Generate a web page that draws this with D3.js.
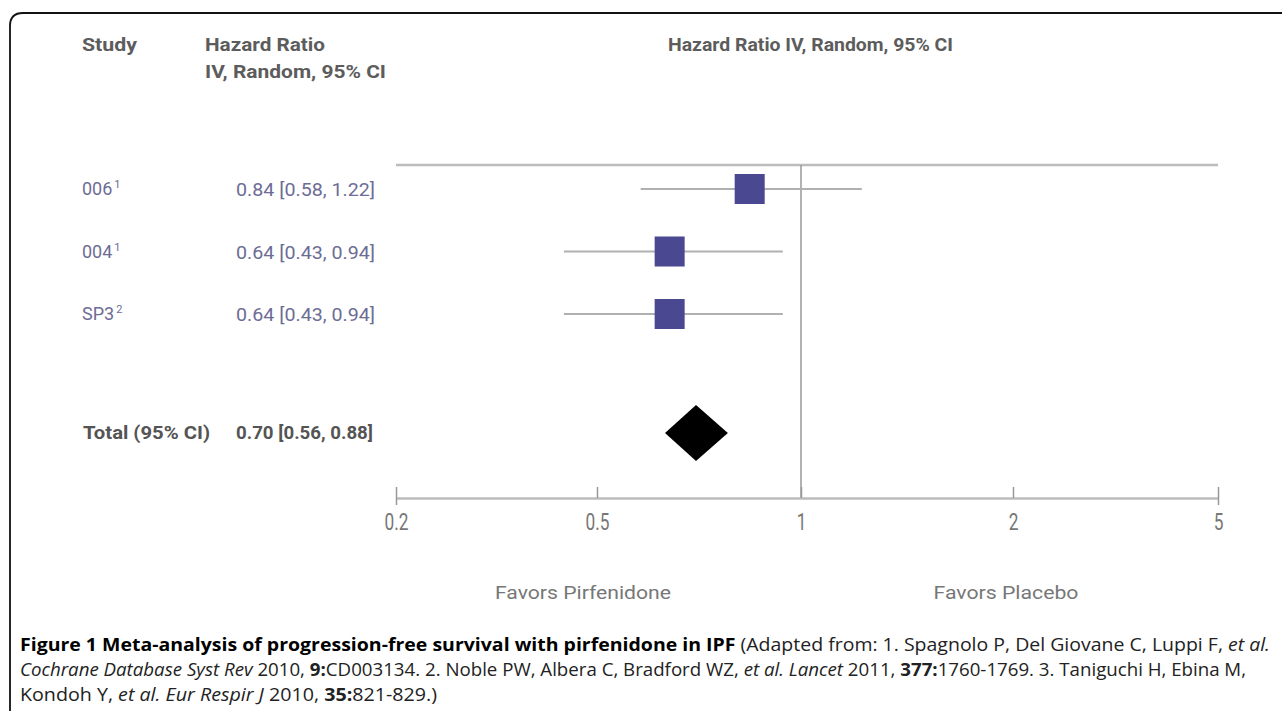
<!DOCTYPE html>
<html>
<head>
<meta charset="utf-8">
<script src="https://cdn.jsdelivr.net/npm/d3@7"></script>
<style>
  html, body { margin: 0; padding: 0; background: #fff; }
  .cond { font-family: Roboto, "Liberation Sans", sans-serif; }
  .cap { font-family: "Open Sans", "Noto Sans", sans-serif; }
</style>
</head>
<body>
<div class="chart"></div>
<script>
const width = 1282;
const height = 711;

// studies, values as printed in the figure
const studies = ['006', '004', 'SP3'];
const refs = ['1', '1', '2'];
const hr = [0.84, 0.64, 0.64];
const lower = [0.58, 0.43, 0.43];
const upper = [1.22, 0.94, 0.94];

// pooled estimate: printed value, and drawn diamond extent
const totalLabel = 'Total (95% CI)';
const totalHr = 0.70;
const totalCi = [0.56, 0.88];
const diamondEnds = [0.63, 0.78];

const tickValues = [0.2, 0.5, 1, 2, 5];
const tickLabels = ['0.2', '0.5', '1', '2', '5'];

const fmt = d3.format('.2f');

// the drawn axis spaces its ticks evenly, so the log scale is piecewise
const x = d3
  .scaleLog()
  .domain(tickValues)
  .range([396, 597, 801, 1013, 1218]);

const rowY = d3
  .scalePoint()
  .domain(studies)
  .range([189, 314]);

const topY = 165;
const totalY = 433;
const axisY = 498;

// squeeze text horizontally to imitate the condensed face of the original
function squeeze(sel, f) {
  sel.each(function() {
    const w = this.getComputedTextLength();
    d3.select(this)
      .attr('textLength', w * f)
      .attr('lengthAdjust', 'spacingAndGlyphs');
  });
}

const svg = d3
  .select('.chart')
  .append('svg')
  .attr('width', width)
  .attr('height', height);

// frame
svg
  .append('path')
  .attr('d', 'M10,720 L10,26 Q10,13 23,13 L1290,13')
  .attr('fill', 'none')
  .attr('stroke', '#111')
  .attr('stroke-width', 1.8);

// column headers
const head = svg
  .append('g')
  .attr('class', 'cond')
  .attr('fill', '#5c5c5c')
  .attr('font-weight', 'bold')
  .attr('font-size', 19);
head.append('text').attr('x', 82).attr('y', 51).text('Study').attr('textLength', 55).attr('lengthAdjust', 'spacingAndGlyphs');
head.append('text').attr('x', 205).attr('y', 51).text('Hazard Ratio').attr('textLength', 120).attr('lengthAdjust', 'spacingAndGlyphs');
head.append('text').attr('x', 205).attr('y', 78).text('IV, Random, 95% CI').attr('textLength', 181).attr('lengthAdjust', 'spacingAndGlyphs');
head
  .append('text')
  .attr('x', 668)
  .attr('y', 51)
  .text('Hazard Ratio IV, Random, 95% CI')
  .attr('textLength', 285)
  .attr('lengthAdjust', 'spacingAndGlyphs');

// top rule and line of no effect
svg
  .append('line')
  .attr('x1', x(0.2))
  .attr('x2', x(5))
  .attr('y1', topY)
  .attr('y2', topY)
  .attr('stroke', '#bcbcbc')
  .attr('stroke-width', 2.5);

svg
  .append('line')
  .attr('x1', x(1))
  .attr('x2', x(1))
  .attr('y1', topY)
  .attr('y2', axisY)
  .attr('stroke', '#999')
  .attr('stroke-width', 1.5);

// study rows
const rows = svg
  .selectAll('.row')
  .data(studies)
  .enter()
  .append('g')
  .attr('class', 'row');

rows
  .append('line')
  .attr('x1', (d, i) => x(lower[i]))
  .attr('x2', (d, i) => x(upper[i]))
  .attr('y1', d => rowY(d))
  .attr('y2', d => rowY(d))
  .attr('stroke', '#b0b0b0')
  .attr('stroke-width', 2.2);

rows
  .append('rect')
  .attr('x', (d, i) => x(hr[i]) - 15)
  .attr('y', d => rowY(d) - 15)
  .attr('width', 30)
  .attr('height', 30)
  .attr('fill', '#4a4890');

const studyText = rows
  .append('text')
  .attr('class', 'cond')
  .attr('x', 82)
  .attr('y', d => rowY(d) + 6)
  .attr('fill', '#6d6c95')
  .attr('font-size', 18);
studyText.append('tspan').text(d => d);
studyText
  .append('tspan')
  .attr('dy', -7)
  .attr('dx', 2)
  .attr('font-size', 11)
  .text((d, i) => refs[i]);

rows
  .append('text')
  .attr('class', 'cond')
  .attr('x', 236)
  .attr('y', d => rowY(d) + 7)
  .attr('fill', '#6d6c95')
  .attr('font-size', 19)
  .attr('textLength', 139)
  .attr('lengthAdjust', 'spacingAndGlyphs')
  .text((d, i) => `${fmt(hr[i])} [${fmt(lower[i])}, ${fmt(upper[i])}]`);

// pooled row
svg
  .append('text')
  .attr('class', 'cond')
  .attr('x', 83)
  .attr('y', totalY + 6)
  .attr('fill', '#545454')
  .attr('font-weight', 'bold')
  .attr('font-size', 19)
  .attr('textLength', 127)
  .attr('lengthAdjust', 'spacingAndGlyphs')
  .text(totalLabel);

svg
  .append('text')
  .attr('class', 'cond')
  .attr('x', 236)
  .attr('y', totalY + 6)
  .attr('fill', '#545454')
  .attr('font-weight', 'bold')
  .attr('font-size', 19)
  .attr('textLength', 137)
  .attr('lengthAdjust', 'spacingAndGlyphs')
  .text(`${fmt(totalHr)} [${fmt(totalCi[0])}, ${fmt(totalCi[1])}]`);

const dh = 28;
svg
  .append('path')
  .attr(
    'd',
    d3.line()([
      [x(diamondEnds[0]), totalY],
      [x(totalHr), totalY - dh],
      [x(diamondEnds[1]), totalY],
      [x(totalHr), totalY + dh]
    ]) + 'Z'
  )
  .attr('fill', '#000');

// bottom axis
const axis = svg
  .append('g')
  .attr('transform', `translate(0,${axisY})`)
  .call(
    d3
      .axisBottom(x)
      .tickValues(tickValues)
      .tickFormat((d, i) => tickLabels[i])
      .tickSize(0)
      .tickPadding(16)
  );
axis.select('.domain').attr('stroke', '#bcbcbc').attr('stroke-width', 2.5);
axis
  .selectAll('.tick line')
  .attr('stroke', '#999')
  .attr('stroke-width', 1.5)
  .attr('y1', (d, i) => (i === 0 || i === tickValues.length - 1 ? 7 : 0))
  .attr('y2', -11);
const tickText = axis
  .selectAll('.tick text')
  .attr('class', 'cond')
  .attr('fill', '#777')
  .attr('font-size', 23)
  .attr('font-family', null);
squeeze(tickText, 0.75);

// favours labels
svg
  .append('text')
  .attr('class', 'cond')
  .attr('x', 583)
  .attr('y', 599)
  .attr('text-anchor', 'middle')
  .attr('fill', '#777')
  .attr('font-size', 19)
  .attr('textLength', 176)
  .attr('lengthAdjust', 'spacingAndGlyphs')
  .text('Favors Pirfenidone');
svg
  .append('text')
  .attr('class', 'cond')
  .attr('x', 1006)
  .attr('y', 599)
  .attr('text-anchor', 'middle')
  .attr('fill', '#777')
  .attr('font-size', 19)
  .attr('textLength', 145)
  .attr('lengthAdjust', 'spacingAndGlyphs')
  .text('Favors Placebo');

// caption
const cap = svg.append('g').attr('class', 'cap').attr('font-size', 18).attr('fill', '#222');
const l1 = cap.append('text').attr('x', 20).attr('y', 651).attr('textLength', 1250).attr('lengthAdjust', 'spacingAndGlyphs');
l1.append('tspan').attr('font-weight', 'bold').attr('fill', '#000').text('Figure 1 Meta-analysis of progression-free survival with pirfenidone in IPF');
l1.append('tspan').text(' (Adapted from: 1. Spagnolo P, Del Giovane C, Luppi F, ');
l1.append('tspan').attr('font-style', 'italic').text('et al.');

const l2 = cap.append('text').attr('x', 20).attr('y', 676).attr('textLength', 1226).attr('lengthAdjust', 'spacingAndGlyphs');
l2.append('tspan').attr('font-style', 'italic').text('Cochrane Database Syst Rev');
l2.append('tspan').text(' 2010, ');
l2.append('tspan').attr('font-weight', 'bold').text('9:');
l2.append('tspan').text('CD003134. 2. Noble PW, Albera C, Bradford WZ, ');
l2.append('tspan').attr('font-style', 'italic').text('et al. Lancet');
l2.append('tspan').text(' 2011, ');
l2.append('tspan').attr('font-weight', 'bold').text('377:');
l2.append('tspan').text('1760-1769. 3. Taniguchi H, Ebina M,');

const l3 = cap.append('text').attr('x', 20).attr('y', 701).attr('textLength', 417).attr('lengthAdjust', 'spacingAndGlyphs');
l3.append('tspan').text('Kondoh Y, ');
l3.append('tspan').attr('font-style', 'italic').text('et al. Eur Respir J');
l3.append('tspan').text(' 2010, ');
l3.append('tspan').attr('font-weight', 'bold').text('35:');
l3.append('tspan').text('821-829.)');
</script>
</body>
</html>
